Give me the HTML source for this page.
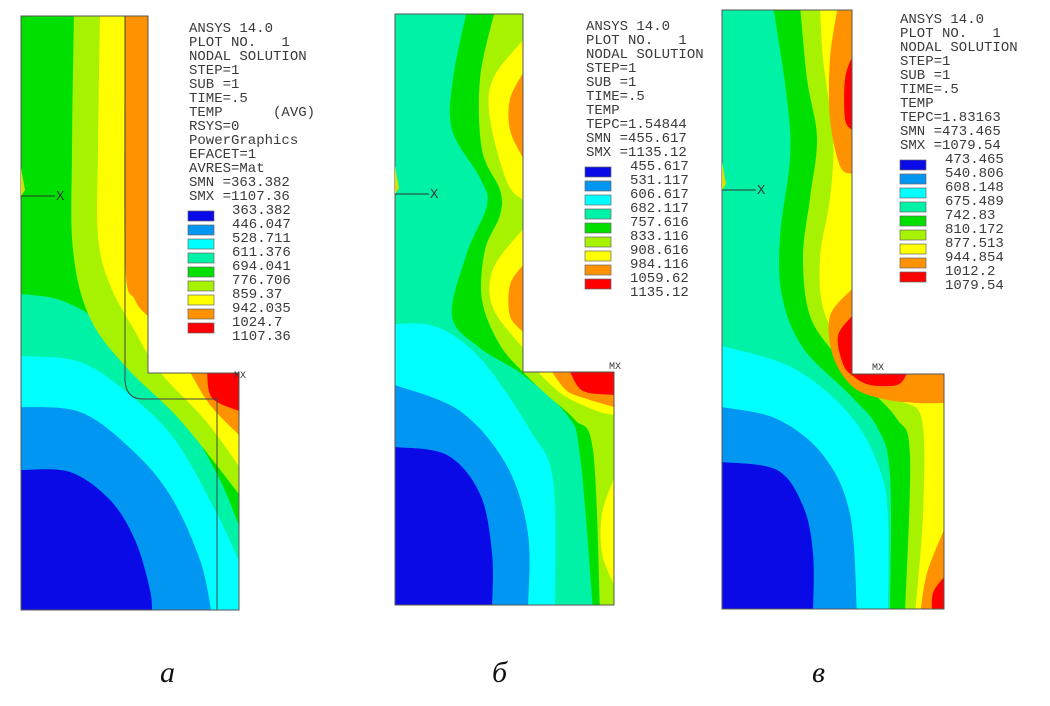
<!DOCTYPE html>
<html><head><meta charset="utf-8"><style>
html,body{margin:0;padding:0;background:#fff;width:1050px;height:706px;overflow:hidden}
svg text{font-family:"Liberation Mono",monospace;font-size:14px;fill:#3a3a3a;white-space:pre}
.lab{font-family:"Liberation Serif","Noto Serif CJK SC",serif;font-style:italic;font-size:30px;fill:#111}
</style></head><body>
<svg id="fig" width="1050" height="706" xmlns="http://www.w3.org/2000/svg"></svg>
<script>
const colors=['#0a0ae6','#0096f2','#00ffff','#00f2a6','#00e000','#a6f200','#ffff00','#ff9200','#ff0000'];
const valuesA=['363.382','446.047','528.711','611.376','694.041','776.706','859.37','942.035','1024.7','1107.36'];
const valuesB=['455.617','531.117','606.617','682.117','757.616','833.116','908.616','984.116','1059.62','1135.12'];
const valuesC=['473.465','540.806','608.148','675.489','742.83','810.172','877.513','944.854','1012.2','1079.54'];
const headA=['ANSYS 14.0','PLOT NO.   1','NODAL SOLUTION','STEP=1','SUB =1','TIME=.5','TEMP      (AVG)','RSYS=0','PowerGraphics','EFACET=1','AVRES=Mat','SMN =363.382','SMX =1107.36'];
const headB=['ANSYS 14.0','PLOT NO.   1','NODAL SOLUTION','STEP=1','SUB =1','TIME=.5','TEMP','TEPC=1.54844','SMN =455.617','SMX =1135.12'];
const headC=['ANSYS 14.0','PLOT NO.   1','NODAL SOLUTION','STEP=1','SUB =1','TIME=.5','TEMP','TEPC=1.83163','SMN =473.465','SMX =1079.54'];

const NS='http://www.w3.org/2000/svg';
const svg=document.getElementById('fig');
function el(tag,attrs,parent){const e=document.createElementNS(NS,tag);for(const k in attrs)e.setAttribute(k,attrs[k]);(parent||svg).appendChild(e);return e;}
function smooth(p){let d='M'+p[0][0]+','+p[0][1];for(let i=0;i<p.length-1;i++){const p0=p[i-1]||p[i],p1=p[i],p2=p[i+1],p3=p[i+2]||p2;
const c1=[p1[0]+(p2[0]-p0[0])/6,p1[1]+(p2[1]-p0[1])/6],c2=[p2[0]-(p3[0]-p1[0])/6,p2[1]-(p3[1]-p1[1])/6];
d+=' C'+c1[0].toFixed(1)+','+c1[1].toFixed(1)+' '+c2[0].toFixed(1)+','+c2[1].toFixed(1)+' '+p2[0]+','+p2[1];}return d;}

const panels=[
 {id:'a',g:{l:21,t:16,ur:148,s:373,r:239,b:610},base:4,head:headA,vals:valuesA,hx:189,hy:27,vx:232,bx:188,
  regions:[
   [3,[[21,294],[60,300],[100,322],[135,360],[185,420],[220,480],[239,526]],[[245,615],[15,615]]],
   [2,[[21,356],[80,362],[130,395],[175,440],[215,510],[239,561]],[[245,615],[15,615]]],
   [1,[[21,407],[80,412],[130,448],[170,495],[200,560],[212,615]],[[15,615]]],
   [0,[[21,470],[70,472],[110,500],[135,540],[150,590],[152,615]],[[15,615]]],
   [5,[[74,10],[72,150],[73,250],[90,318],[127,368],[180,420],[239,494]],[[245,494],[245,10]]],
   [6,[[100,10],[98,150],[98,237],[110,285],[133,328],[160,372],[205,420],[239,466]],[[245,466],[245,10]]],
   [7,[[125,10],[125,257],[135,300],[150,318]],[[150,10]]],
   [7,[[190,372],[210,405],[239,435]],[[245,435],[245,372]]],
   [8,[[207,372],[212,398],[239,411]],[[245,411],[245,372]]]
  ],mx:[234,378]},
 {id:'b',g:{l:395,t:14,ur:523,s:372,r:614,b:605},base:3,head:headB,vals:valuesB,hx:586,hy:25,vx:630,bx:585,
  regions:[
   [2,[[395,324],[430,325],[460,340],[490,370],[530,430],[553,480],[555,610]],[[390,610]]],
   [1,[[395,385],[460,411],[507,466],[528,534],[528,610]],[[390,610]]],
   [0,[[395,447],[447,455],[480,494],[492,553],[492,610]],[[390,610]]],
   [4,[[467,10],[453,79],[452,130],[480,178],[487,205],[467,253],[452,316],[480,348],[523,375],[567,415],[580,455],[593,610]],[[620,610],[620,10]]],
   [5,[[495,10],[480,79],[482,150],[500,190],[500,215],[485,250],[482,300],[500,345],[525,374],[547,395],[575,420],[593,450],[600,610]],[[620,610],[620,10]]],
   [6,[[523,40],[493,79],[490,119],[507,182],[523,200]],[[530,200],[530,40]]],
   [6,[[523,229],[493,269],[493,308],[523,348]],[[530,348],[530,229]]],
   [7,[[523,73],[510,99],[510,130],[523,158]],[[530,158],[530,73]]],
   [7,[[523,265],[510,285],[510,316],[523,332]],[[530,332],[530,265]]],
   [6,[[538,372],[563,395],[597,411],[614,415]],[[620,415],[620,372]]],
   [6,[[614,478],[602,514],[602,553],[614,585]],[[620,585],[620,478]]],
   [7,[[552,372],[567,391],[587,399],[614,407]],[[620,407],[620,372]]],
   [8,[[570,372],[583,391],[614,395]],[[620,395],[620,372]]]
  ],mx:[609,369]},
 {id:'c',g:{l:722,t:10,ur:852,s:374,r:944,b:609},base:3,head:headC,vals:valuesC,hx:900,hy:18,vx:945,bx:900,
  regions:[
   [2,[[722,346],[793,368],[850,415],[880,470],[888,520],[888,615]],[[715,615]]],
   [1,[[722,407],[777,419],[823,455],[850,514],[857,615]],[[715,615]]],
   [0,[[722,462],[777,470],[803,506],[813,553],[813,615]],[[715,615]]],
   [4,[[773,5],[787,99],[790,158],[780,237],[782,296],[803,348],[850,395],[877,427],[890,474],[890,615]],[[950,615],[950,5]]],
   [5,[[800,5],[807,79],[817,138],[810,198],[803,257],[810,316],[837,356],[867,387],[897,419],[910,455],[905,615]],[[950,615],[950,5]]],
   [6,[[820,5],[823,59],[833,138],[830,198],[820,257],[823,308],[843,348],[867,375],[900,400],[922,420],[923,514],[915,615]],[[950,615],[950,5]]],
   [7,[[838,5],[830,59],[830,119],[840,166],[852,174]],[[858,174],[858,5]]],
   [7,[[852,289],[830,316],[833,356],[853,387],[883,399],[917,403],[944,403]],[[950,403],[950,289]]],
   [7,[[944,530],[927,573],[920,615]],[[950,615],[950,530]]],
   [8,[[852,57],[845,79],[845,119],[852,130]],[[858,130],[858,57]]],
   [8,[[852,316],[838,336],[843,364],[853,376],[870,385],[897,385],[907,374]],[[907,360],[858,360]]],
   [8,[[944,577],[933,593],[932,615]],[[950,615],[950,577]]]
  ],mx:[872,370]}
];

const defs=el('defs',{});
panels.forEach(P=>{
 const g=P.g;
 const shape=`M${g.l},${g.t} L${g.ur},${g.t} L${g.ur},${g.s} L${g.r},${g.s} L${g.r},${g.b} L${g.l},${g.b} Z`;
 const cp=el('clipPath',{id:'clip-'+P.id},defs);el('path',{d:shape},cp);
 const grp=el('g',{'clip-path':'url(#clip-'+P.id+')'});
 
 
 const bg=el('rect',{x:g.l-5,y:g.t-5,width:g.r-g.l+10,height:g.b-g.t+10,fill:colors[P.base]},grp);
 
 
 P.regions.forEach(r=>{
  let d=smooth(r[1]);r[2].forEach(c=>d+=' L'+c[0]+','+c[1]);d+=' Z';
  const p=el('path',{d:d,fill:colors[r[0]]},grp);
  
  
 });
 const o=el('path',{d:shape,fill:'none',stroke:'#555','stroke-width':1});
 
 
 // triad
 const ty=g.t+180;
 el('polygon',{points:`${g.l},${ty-28} ${g.l+4},${ty-6} ${g.l},${ty}`,fill:'#d8e000'});
 const ax=el('line',{x1:g.l,y1:ty,x2:g.l+34,y2:ty,stroke:'#333','stroke-width':1});
 
 
 const xt=el('text',{x:g.l+35,y:ty+4,'font-size':13});xt.textContent='X';
 
 
 const mx=el('text',{x:P.mx[0],y:P.mx[1],style:'font-size:10px'});mx.textContent='MX';
 
 
 // header
 P.head.forEach((h,i)=>{const t=el('text',{x:P.hx,y:P.hy+5+14*i});t.textContent=h;
  
  });
 const n=P.head.length;
 P.vals.forEach((v,i)=>{const t=el('text',{x:P.vx,y:P.hy+5+14*(n+i)});t.textContent=v;
  
  
  if(i<colors.length){const b=el('rect',{x:P.bx,y:P.hy+14*(n+i)+2,width:26,height:10,fill:colors[i],stroke:'#666','stroke-width':0.7});
   
   }
 });
});
// panel a inner outline
const io=el('path',{d:'M125,16 L125,380 Q126,399 143,399 L217,399 L217,610',fill:'none',stroke:'#444','stroke-width':1});


[['а',160,682],['б',492,682],['в',812,682]].forEach(l=>{const t=el('text',{x:l[1],y:l[2],class:'lab'});t.textContent=l[0];
 
 });
</script>
</body></html>
